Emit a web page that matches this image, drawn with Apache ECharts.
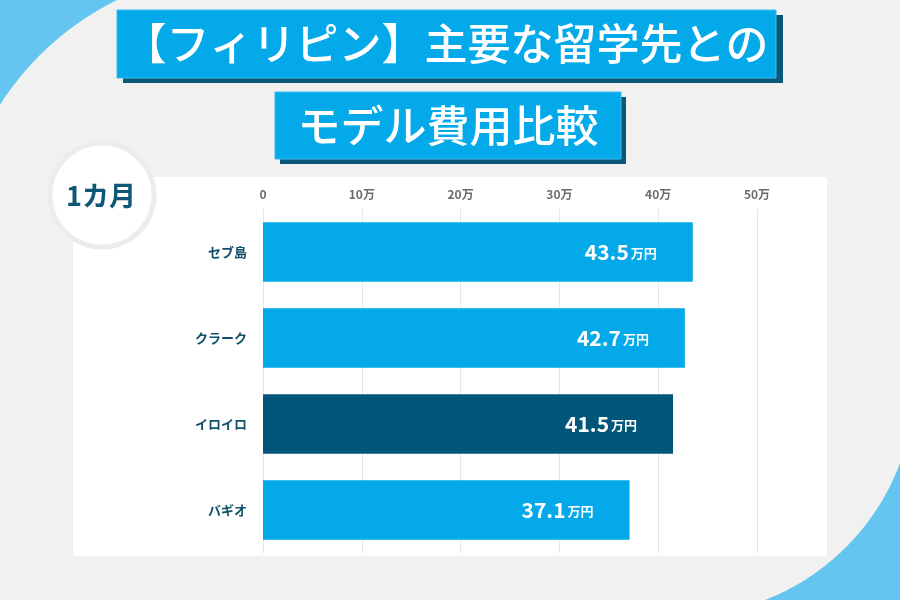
<!DOCTYPE html>
<html><head><meta charset="utf-8">
<script src="https://cdn.jsdelivr.net/npm/echarts@6/dist/echarts.min.js"></script>
<style>html,body{margin:0;padding:0;background:#f1f1f1}#c{width:900px;height:600px}</style>
</head><body><div id="c"></div>
<script>
const categories = ['セブ島', 'クラーク', 'イロイロ', 'バギオ'];
const values = [43.5, 42.7, 41.5, 37.1];
const highlight = [false, false, true, false];
const tickValues = [0, 10, 20, 30, 40, 50];
const tickLabels = ['0', '10万', '20万', '30万', '40万', '50万'];
const titleLine1 = '【フィリピン】主要な留学先との';
const titleLine2 = 'モデル費用比較';
const periodLabel = '1カ月';
const unit = '万円';

const FONT = '"Noto Sans CJK JP", "Noto Sans", sans-serif';
const LIGHT = '#03a9e9', DARK = '#03567a';

function arcPoly(cx, cy, r, p1, p2, corner) {
  const a1 = Math.atan2(p1[1] - cy, p1[0] - cx);
  const a2 = Math.atan2(p2[1] - cy, p2[0] - cx);
  const pts = [corner];
  const n = 60;
  for (let i = 0; i <= n; i++) {
    const a = a1 + (a2 - a1) * i / n;
    pts.push([cx + r * Math.cos(a), cy + r * Math.sin(a)]);
  }
  return pts;
}
const tlPts = arcPoly(246, 262, 292, [0, 105], [117, 0], [0, 0]);
const brPts = arcPoly(679.4, 380.7, 235.5, [900, 463], [765, 600], [900, 600]);

const chart = echarts.init(document.getElementById('c'), null, {renderer: 'canvas'});
chart.setOption({
  backgroundColor: '#f1f1f1',
  animation: false,
  graphic: [
    {type: 'polygon', z: -20, shape: {points: tlPts}, style: {fill: '#64c6f0'}},
    {type: 'polygon', z: -20, shape: {points: brPts}, style: {fill: '#64c6f0'}},
    {type: 'rect', z: -15, shape: {x: 73, y: 177, width: 754, height: 379}, style: {fill: '#ffffff'}},
    {type: 'circle', z: 10, shape: {cx: 102, cy: 195, r: 52}, style: {fill: '#ffffff', stroke: '#ececec', lineWidth: 5}},
    {type: 'text', z: 11, style: {x: 101, y: 196, text: periodLabel, align: 'center', verticalAlign: 'middle', fill: '#0e5877', font: 'bold 27px ' + FONT}},
    {type: 'rect', z: 10, shape: {x: 123, y: 15, width: 660, height: 68}, style: {fill: '#0a5878'}},
    {type: 'rect', z: 11, shape: {x: 117, y: 10, width: 659, height: 68}, style: {fill: '#03a9e9', stroke: '#3bbdf0', lineWidth: 1}},
    {type: 'text', z: 12, style: {x: 446, y: 44, text: titleLine1, align: 'center', verticalAlign: 'middle', fill: '#ffffff', font: '500 43px ' + FONT}},
    {type: 'rect', z: 10, shape: {x: 280, y: 97, width: 346, height: 67}, style: {fill: '#0a5878'}},
    {type: 'rect', z: 11, shape: {x: 275, y: 92, width: 346, height: 67}, style: {fill: '#03a9e9', stroke: '#3bbdf0', lineWidth: 1}},
    {type: 'text', z: 12, style: {x: 448, y: 126, text: titleLine2, align: 'center', verticalAlign: 'middle', fill: '#ffffff', font: '500 43px ' + FONT}}
  ],
  grid: {left: 263, right: 143, top: 209, height: 344, containLabel: false},
  xAxis: {
    type: 'value', position: 'top', min: 0, max: 50, interval: 10,
    axisLine: {show: false}, axisTick: {show: false},
    splitLine: {show: true, lineStyle: {color: '#e6e6e6', width: 1}},
    axisLabel: {
      margin: 9, color: '#6b6b6b', fontSize: 12, fontWeight: 'bold', fontFamily: FONT,
      formatter: v => tickLabels[tickValues.indexOf(v)]
    }
  },
  yAxis: {
    type: 'category', data: categories, inverse: true,
    axisLine: {show: true, lineStyle: {color: '#e6e6e6'}}, axisTick: {show: false},
    axisLabel: {margin: 16, color: '#124f6a', fontSize: 13, fontWeight: 'bold', fontFamily: FONT}
  },
  series: [{
    type: 'bar', barCategoryGap: '31%',
    data: values.map((v, i) => ({value: v, itemStyle: {color: highlight[i] ? DARK : LIGHT}})),
    label: {
      show: true, position: 'insideRight', distance: 36,
      formatter: p => '{v|' + p.value.toFixed(1) + '}{u|' + unit + '}',
      rich: {
        v: {color: '#ffffff', fontSize: 21, fontWeight: 'bold', fontFamily: FONT},
        u: {color: '#ffffff', fontSize: 13, fontWeight: 'bold', fontFamily: FONT, padding: [3, 0, 0, 2]}
      }
    }
  }]
});
</script></body></html>
